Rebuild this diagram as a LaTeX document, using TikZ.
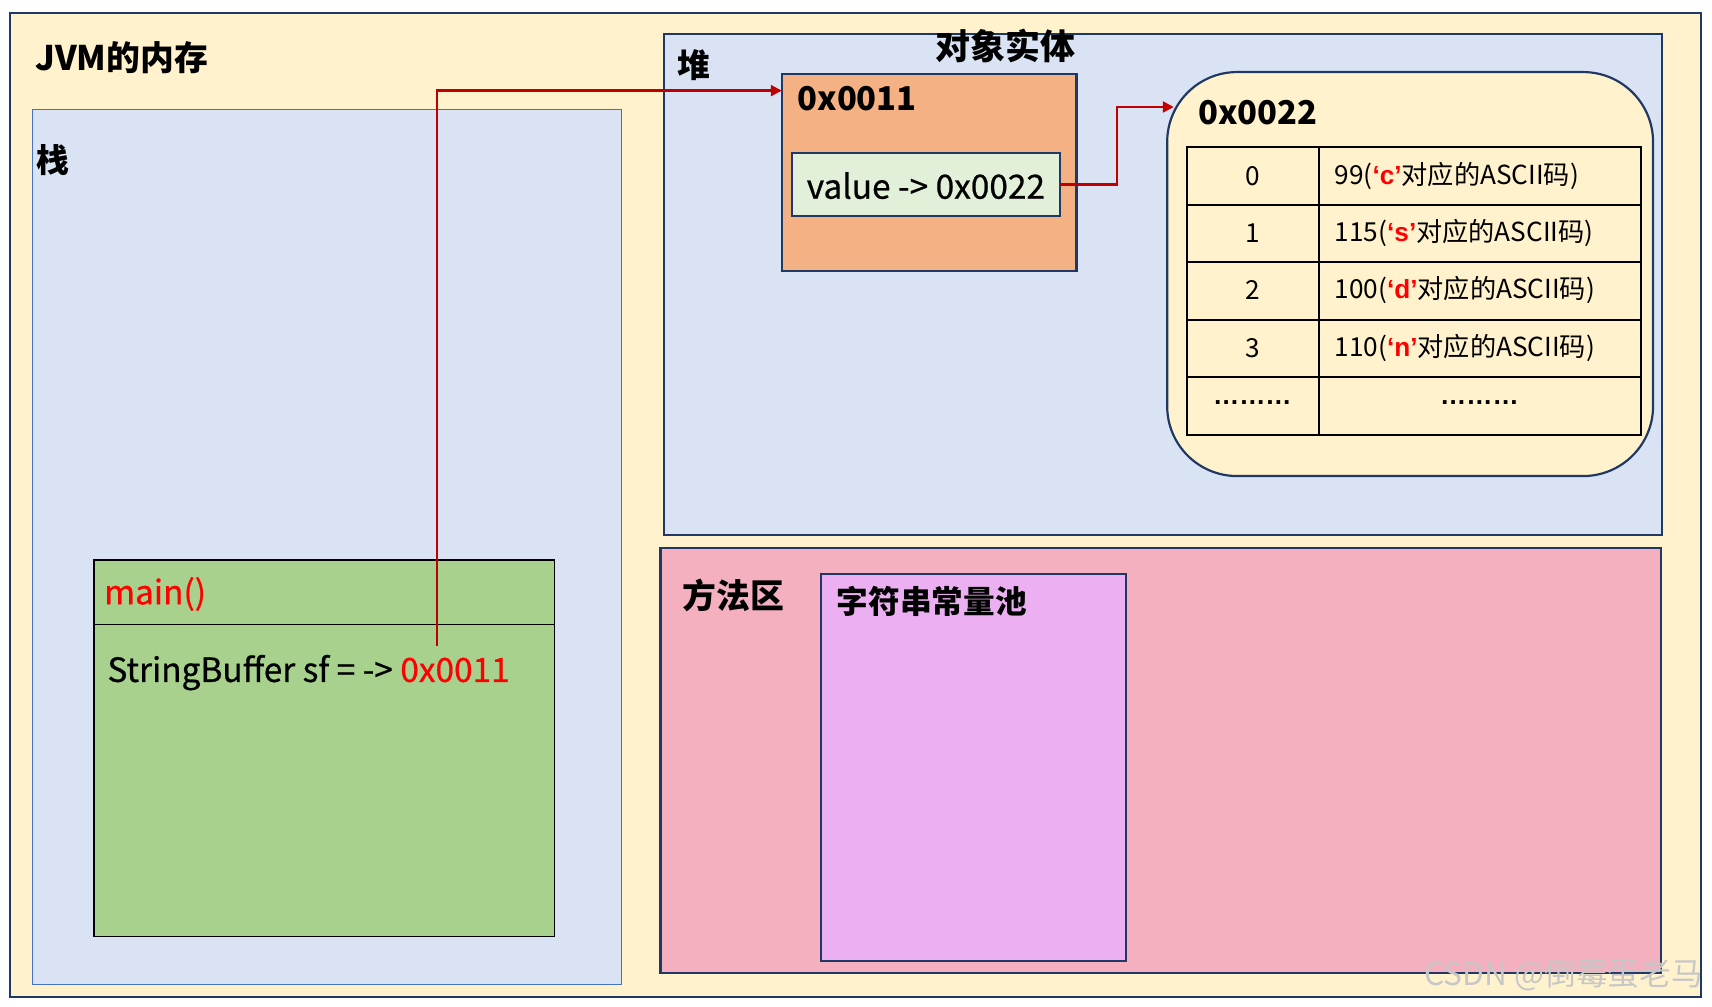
\documentclass[tikz,border=0pt]{standalone}
\usepackage{fontspec}
\setmainfont{Noto Sans CJK SC}
\newfontfamily\latinq{Liberation Sans}
\newfontfamily\medfont[FakeBold=0.6]{Noto Sans CJK SC}
\usetikzlibrary{arrows.meta}
\definecolor{navy}{HTML}{1F3864}
\definecolor{bgyellow}{HTML}{FFF2CC}
\definecolor{lblue}{HTML}{DAE3F3}
\definecolor{sblue}{HTML}{4472C4}
\definecolor{mgreen}{HTML}{A9D18E}
\definecolor{lgreen}{HTML}{E2F0D9}
\definecolor{orng}{HTML}{F4B183}
\definecolor{pinkm}{HTML}{F4B0BF}
\definecolor{violetp}{HTML}{ECAFF1}
\definecolor{darkred}{HTML}{C00000}
\definecolor{brred}{HTML}{FF0000}
\tikzset{
  area/.style={draw=navy, line width=1pt, anchor=north west, inner sep=0pt, outer sep=0pt},
  big/.style={font=\fontsize{15}{18}\selectfont\bfseries, inner sep=0pt, anchor=west},
  mid/.style={font=\fontsize{15.3}{18}\selectfont\medfont, inner sep=0pt, anchor=west},
  cell/.style={font=\fontsize{12}{14}\selectfont, inner sep=0pt},
  redarr/.style={draw=darkred, line width=1.1pt, -{Triangle[length=5pt,width=5pt]}},
}
\newcommand{\qc}[1]{\textcolor{brred}{\bfseries\latinq ‘#1’}}
\begin{document}
\begin{tikzpicture}[x=0.5pt,y=-0.5pt]
\useasboundingbox (0,0) rectangle (1568,922);
\fill[white] (0,0) rectangle (1568,922);
% outer frame
\node[area, fill=bgyellow, minimum width=774.5pt, minimum height=450.5pt] (jvm) at (9,12) {};
\node[big, font=\fontsize{15.5}{18}\selectfont\bfseries] (jvmlabel) at (32,53) {JVM的内存};
% stack
\node[area, draw=sblue, line width=0.5pt, fill=lblue, minimum width=269.5pt, minimum height=401pt] (stack) at (30,100) {};
\node[big] (stacklabel) at (33,147) {栈};
% main frame
\node[area, draw=black, line width=0.6pt, fill=mgreen, minimum width=211pt, minimum height=172.5pt] (main) at (86,513) {};
\draw[black, line width=0.6pt] (86,572) -- (508,572);
\node[mid, text=brred] (mainlabel) at (95,544) {main()};
\node[mid] (sfline) at (98,616) {StringBuffer sf = -> \textcolor{brred}{0x0011}};
% heap
\node[area, fill=lblue, minimum width=457pt, minimum height=229.5pt] (heap) at (608,31) {};
\node[big] (heaplabel) at (620,60) {堆};
\node[big, anchor=center, font=\fontsize{16}{18}\selectfont\bfseries] (objlabel) at (921,42) {对象实体};
% object box
\node[area, fill=orng, minimum width=135pt, minimum height=90pt] (obj) at (716,68) {};
\node[big] (objaddr) at (730,90) {0x0011};
\node[area, fill=lgreen, minimum width=123pt, minimum height=29pt] (value) at (725,140) {};
\node[mid, anchor=center] (valuetext) at (848,170) {value -> 0x0022};
% array box
\node[area, fill=bgyellow, rounded corners=32pt, minimum width=222.5pt, minimum height=185pt] (arr) at (1069,66) {};
\node[big] (arraddr) at (1097,103) {0x0022};
% table
\draw[black, line width=0.9pt] (1087,135) rectangle (1503,398);
\foreach \yy in {187.6,240.2,292.8,345.4} \draw[black, line width=0.9pt] (1087,\yy) -- (1503,\yy);
\draw[black, line width=0.9pt] (1208,135) -- (1208,398);
\node[cell] (i0) at (1147,161) {0};
\node[cell] (i1) at (1147,213.5) {1};
\node[cell] (i2) at (1147,266) {2};
\node[cell] (i3) at (1147,318.5) {3};
\node[cell, font=\fontsize{12}{14}\selectfont\bfseries\latinq] (i4) at (1147,369) {………};
\node[cell, anchor=west] (v0) at (1222,161) {99(\qc{c}对应的ASCII码)};
\node[cell, anchor=west] (v1) at (1222,213.5) {115(\qc{s}对应的ASCII码)};
\node[cell, anchor=west] (v2) at (1222,266) {100(\qc{d}对应的ASCII码)};
\node[cell, anchor=west] (v3) at (1222,318.5) {110(\qc{n}对应的ASCII码)};
\node[cell, font=\fontsize{12}{14}\selectfont\bfseries\latinq] (v4) at (1355,369) {………};
% method area
\node[area, fill=pinkm, minimum width=458pt, minimum height=194.5pt] (method) at (605,502) {};
\node[big, font=\fontsize{15.5}{18}\selectfont\bfseries] (methodlabel) at (625,545) {方法区};
\node[area, fill=violetp, minimum width=139.5pt, minimum height=177pt] (pool) at (752,526) {};
\node[big, font=\fontsize{14.5}{18}\selectfont\bfseries] (poollabel) at (766,551) {字符串常量池};
% watermark
\node[font=\fontsize{14.5}{16}\selectfont, text=black!22, inner sep=0pt, anchor=east] (wm) at (1560,893) {CSDN @倒霉蛋老马};
% connectors
\coordinate (sfstart) at (400,592);
\draw[redarr] (sfstart) |- ([yshift=-7.5pt]obj.north west);
\coordinate (arrin) at (1075,98);
\draw[redarr] (value.east) -- ++(26pt,0) |- (arrin);
\end{tikzpicture}
\end{document}
